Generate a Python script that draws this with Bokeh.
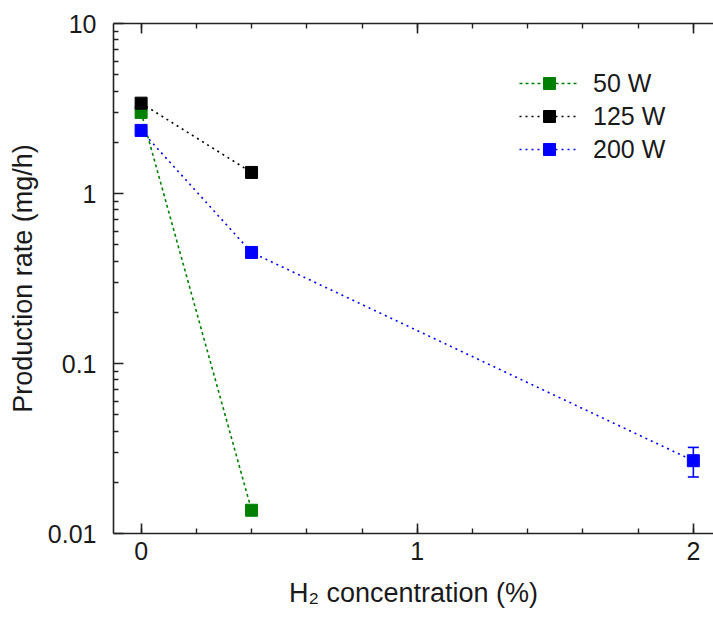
from bokeh.plotting import figure
from bokeh.models import (Range1d, LinearAxis, SingleIntervalTicker, FixedTicker,
                          CustomJSTickFormatter, Legend, LegendItem, Whisker, TeeHead,
                          ColumnDataSource)
from bokeh.embed import file_html
from bokeh.resources import INLINE

# ---- data ----
x_50 = [0.0, 0.4]
y_50 = [3.0, 0.0137]
x_125 = [0.0, 0.4]
y_125 = [3.4, 1.33]
x_200 = [0.0, 0.4, 2.0]
y_200 = [2.35, 0.45, 0.0268]
err_200 = [0.0, 0.0, 0.0053]

labels = ["50 W", "125 W", "200 W"]
colors = ["#008000", "#000000", "#0000FF"]
dashes = ["3 3", "2 4", "2 4"]

y_tick_vals = [0.01, 0.1, 1, 10]
y_tick_labels = ["0.01", "0.1", "1", "10"]
y_minor_vals = [m * 10.0 ** e for e in (-2, -1, 0) for m in range(2, 10)]

x_label = "H\u2082 concentration (%)"
y_label = "Production rate (mg/h)"

FONT = "Liberation Sans"
TXT = "#1a1a1a"

p = figure(width=713, height=623, output_backend="svg", toolbar_location=None,
           y_axis_type="log",
           x_range=Range1d(-0.1, 2.073), y_range=Range1d(0.01, 10),
           min_border_left=113, min_border_right=0, min_border_top=23,
           min_border_bottom=90)
p.outline_line_color = None
p.grid.visible = False
p.background_fill_color = "white"
p.border_fill_color = "white"

xticker = SingleIntervalTicker(interval=1, num_minor_ticks=5)
yticker = FixedTicker(ticks=y_tick_vals, minor_ticks=y_minor_vals)
yfmt = CustomJSTickFormatter(args=dict(vals=y_tick_vals, labs=y_tick_labels), code="""
    for (let i = 0; i < vals.length; i++) {
        if (Math.abs(Math.log10(tick) - Math.log10(vals[i])) < 1e-6) return labs[i];
    }
    return '';
""")

def style_axis(ax):
    ax.axis_line_color = "#222222"
    ax.axis_line_width = 1.6
    ax.major_tick_line_color = "#222222"
    ax.minor_tick_line_color = "#222222"
    ax.major_tick_line_width = 1.6
    ax.minor_tick_line_width = 1.4
    ax.major_tick_in = 10
    ax.major_tick_out = 0
    ax.minor_tick_in = 5
    ax.minor_tick_out = 0
    ax.major_label_text_font = FONT
    ax.major_label_text_font_size = "25px"
    ax.major_label_text_color = TXT
    ax.axis_label_text_font = FONT
    ax.axis_label_text_font_size = "27px"
    ax.axis_label_text_font_style = "normal"
    ax.axis_label_text_color = TXT

xa = p.xaxis[0]
xa.ticker = xticker
style_axis(xa)
xa.axis_label = x_label
xa.major_label_standoff = 8
xa.axis_label_standoff = 15

ya = p.yaxis[0]
ya.ticker = yticker
ya.formatter = yfmt
style_axis(ya)
ya.axis_label = y_label
ya.major_label_standoff = 17
ya.axis_label_standoff = 7

# mirrored top axis: ticks only, no labels
top = LinearAxis(ticker=xticker, formatter=CustomJSTickFormatter(code="return '';"))
style_axis(top)
top.major_label_text_font_size = "10px"
top.major_label_standoff = 0
p.add_layout(top, "above")

items = []
series = [(x_50, y_50), (x_125, y_125), (x_200, y_200)]
for (xs, ys), lab, col, dash in zip(series, labels, colors, dashes):
    lr = p.line(xs, ys, line_color=col, line_width=1.6, line_dash=dash)
    sr = p.scatter(xs, ys, marker="square", size=12, fill_color=col, line_color=col,
                   line_width=1)
    items.append(LegendItem(label=lab, renderers=[lr, sr]))

ex = [x for x, e in zip(x_200, err_200) if e > 0]
ey = [y for y, e in zip(y_200, err_200) if e > 0]
ee = [e for e in err_200 if e > 0]
esrc = ColumnDataSource(dict(x=ex, upper=[y + e for y, e in zip(ey, ee)],
                             lower=[y - e for y, e in zip(ey, ee)]))
p.add_layout(Whisker(base="x", upper="upper", lower="lower", source=esrc,
                     line_color=colors[2], line_width=1.6,
                     upper_head=TeeHead(size=11, line_color=colors[2], line_width=1.6),
                     lower_head=TeeHead(size=11, line_color=colors[2], line_width=1.6)))

legend = Legend(items=items, location=(406, 369), padding=0, margin=0,
                spacing=3, glyph_width=60, glyph_height=30, label_height=30,
                label_standoff=14, label_text_font=FONT, label_text_font_size="25px",
                label_text_color=TXT, border_line_alpha=0, background_fill_alpha=0)
p.add_layout(legend)

open("out.html", "w").write(file_html(p, INLINE))
